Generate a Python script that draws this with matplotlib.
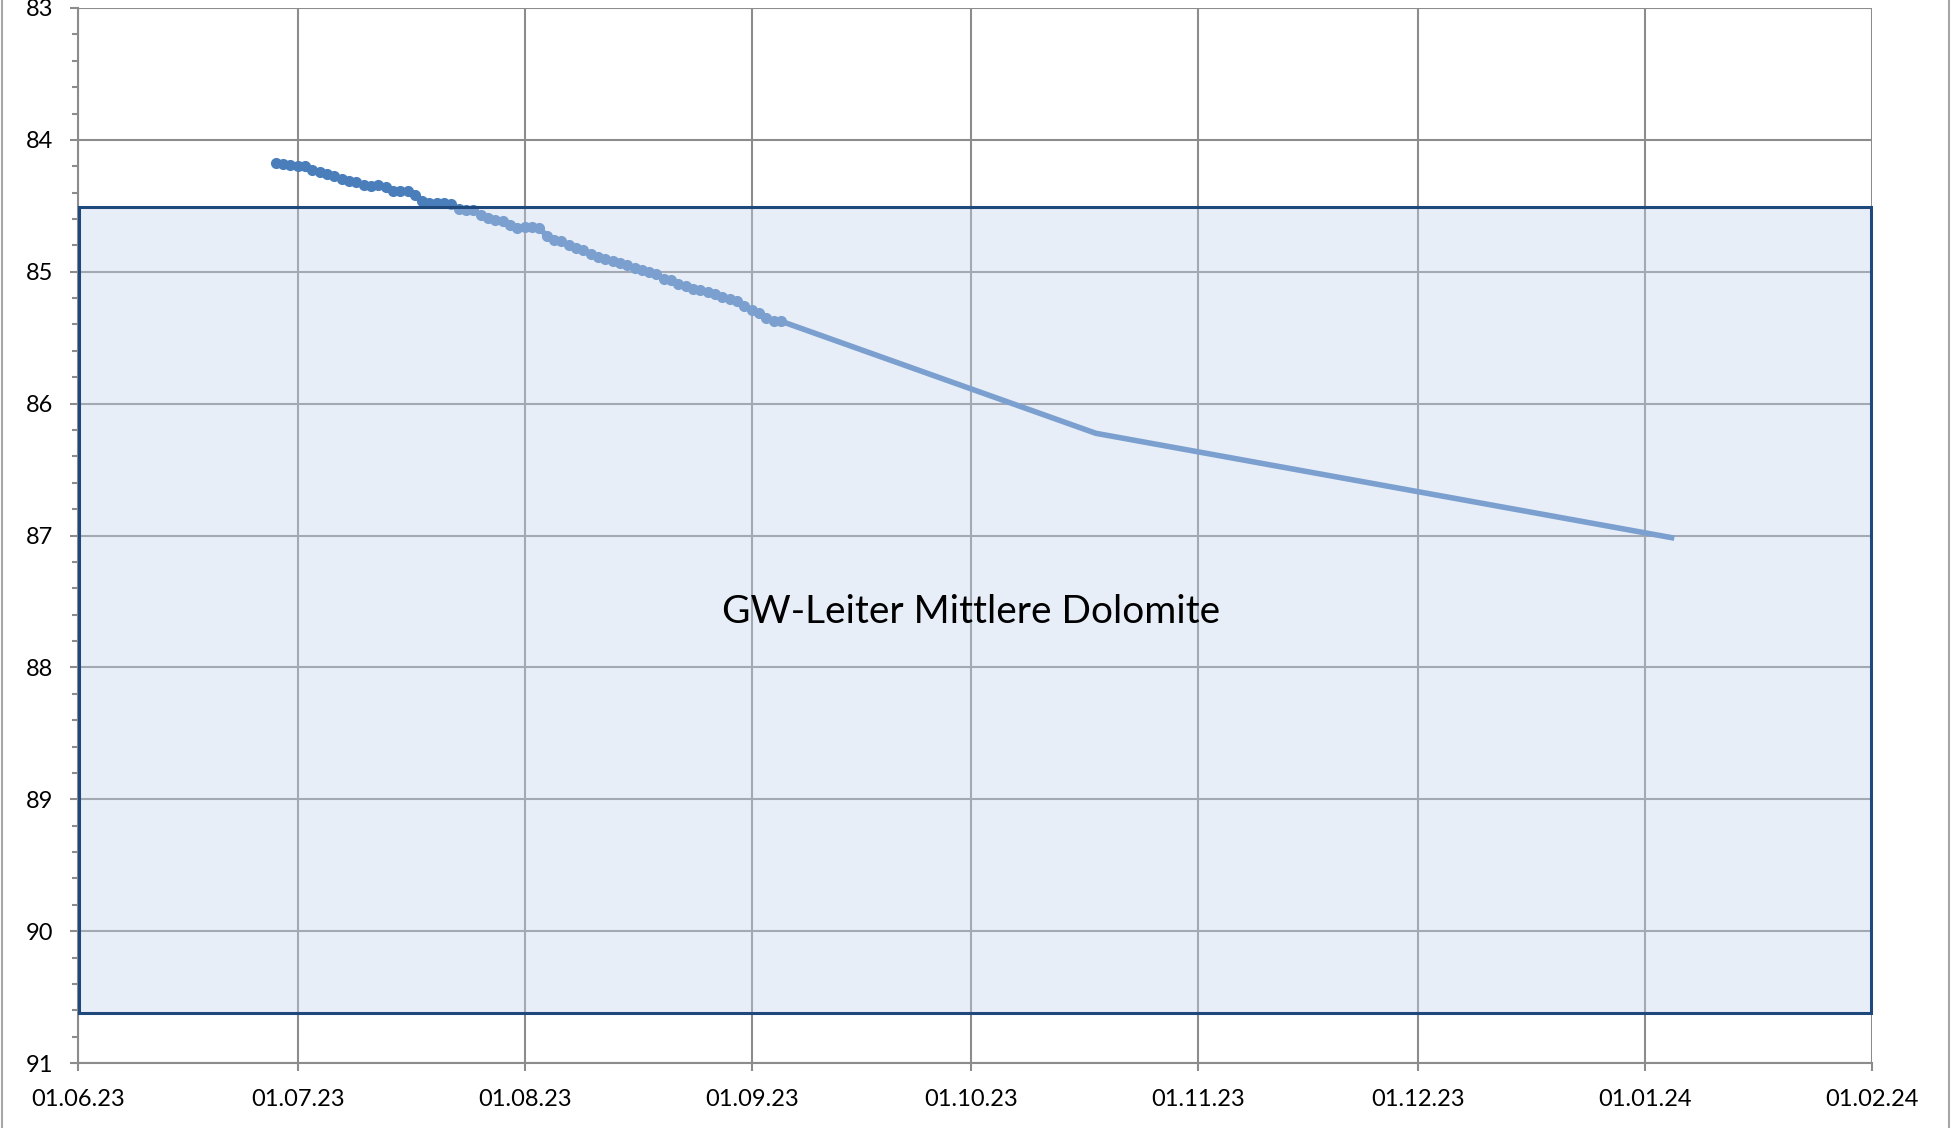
"""Groundwater level below reference, with the 'Mittlere Dolomite' aquifer band."""

import datetime as dt

import matplotlib

matplotlib.use("Agg")
import matplotlib.dates as mdates
import matplotlib.pyplot as plt
from matplotlib.lines import Line2D
from matplotlib.patches import Rectangle
from matplotlib.ticker import MultipleLocator

plt.rcParams.update({
    "font.family": ["Lato", "DejaVu Sans"],
    "font.size": 17,
})

# --------------------------------------------------
# data: daily logger readings (with markers) and later sparse readings
# --------------------------------------------------
daily_start = dt.date(2023, 6, 28)
daily_levels = [
    84.173, 84.185, 84.19, 84.195, 84.20, 84.23, 84.245, 84.26, 84.275, 84.30,
    84.31, 84.32, 84.34, 84.35, 84.345, 84.36, 84.39, 84.385, 84.39, 84.42,
    84.46, 84.475, 84.475, 84.475, 84.49, 84.525, 84.53, 84.535, 84.57, 84.59,
    84.61, 84.615, 84.645, 84.67, 84.66, 84.66, 84.665, 84.73, 84.76, 84.765,
    84.80, 84.82, 84.835, 84.865, 84.89, 84.905, 84.915, 84.935, 84.95, 84.97,
    84.99, 85.005, 85.02, 85.055, 85.065, 85.09, 85.105, 85.13, 85.135, 85.15,
    85.17, 85.19, 85.21, 85.22, 85.26, 85.29, 85.31, 85.35, 85.37, 85.375,
]
daily_dates = [daily_start + dt.timedelta(days=i) for i in range(len(daily_levels))]

later_dates = [dt.date(2023, 10, 18), dt.date(2024, 1, 5)]
later_levels = [86.225, 87.02]

# aquifer band (depth range) and its label
band_top = 84.51
band_bottom = 90.62
band_label = "GW-Leiter Mittlere Dolomite"

x_start = dt.date(2023, 6, 1)
x_end = dt.date(2024, 2, 1)

# --------------------------------------------------
# figure
# --------------------------------------------------
W, H = 1955, 1128
fig = plt.figure(figsize=(W / 100, H / 100), dpi=100)
ax = fig.add_axes([78 / W, 1 - 1063 / H, (1872 - 78) / W, (1063 - 8) / H])

line_color = "#4A7EBB"
grid_color = "#8C8C8C"

all_dates = daily_dates + later_dates
all_levels = daily_levels + later_levels
ax.plot(all_dates, all_levels, color=line_color, lw=4.0, solid_capstyle="butt", zorder=3)
ax.plot(daily_dates, daily_levels, ls="none", marker="o", ms=7,
        color=line_color, zorder=3)

# semi-transparent band drawn over the line (as in the source chart)
x0 = mdates.date2num(x_start) + 0.1
x1 = mdates.date2num(x_end) - 0.2
ax.add_patch(Rectangle((x0, band_top), x1 - x0, band_bottom - band_top,
                       facecolor=(198 / 255, 213 / 255, 238 / 255, 0.4),
                       edgecolor="#1F497D", lw=2.2, zorder=4, clip_on=False))
ax.text(mdates.date2num(dt.date(2023, 10, 1)), 87.58, band_label,
        ha="center", va="center", fontsize=28, color="black", zorder=5)

# axes
ax.set_xlim(x_start, x_end)
ax.set_ylim(91, 83)
ax.xaxis.set_major_locator(mdates.MonthLocator())
ax.xaxis.set_major_formatter(mdates.DateFormatter("%d.%m.%y"))
ax.yaxis.set_major_locator(MultipleLocator(1))
ax.yaxis.set_minor_locator(MultipleLocator(0.2))

ax.grid(True, which="major", color=grid_color, lw=1.5, zorder=1)
ax.set_axisbelow(True)
for side in ("top", "right"):
    ax.spines[side].set_visible(False)
for side in ("left", "bottom"):
    ax.spines[side].set_color(grid_color)
    ax.spines[side].set_linewidth(1.5)

ax.tick_params(axis="both", which="major", direction="out", length=6,
               width=1.5, color=grid_color)
ax.tick_params(axis="y", which="minor", direction="out", length=4.5,
               width=1.5, color=grid_color)
ax.tick_params(axis="x", pad=13)
ax.tick_params(axis="y", pad=12)

# outer chart border pieces visible in the crop
fig.add_artist(Line2D([2 / W, 2 / W], [0, 1], color="#A6A6A6", lw=1.5))
fig.add_artist(Line2D([1949 / W, 1949 / W], [0, 1], color="#A6A6A6", lw=1.5))

fig.savefig("out.png", dpi=100)
plt.close(fig)
